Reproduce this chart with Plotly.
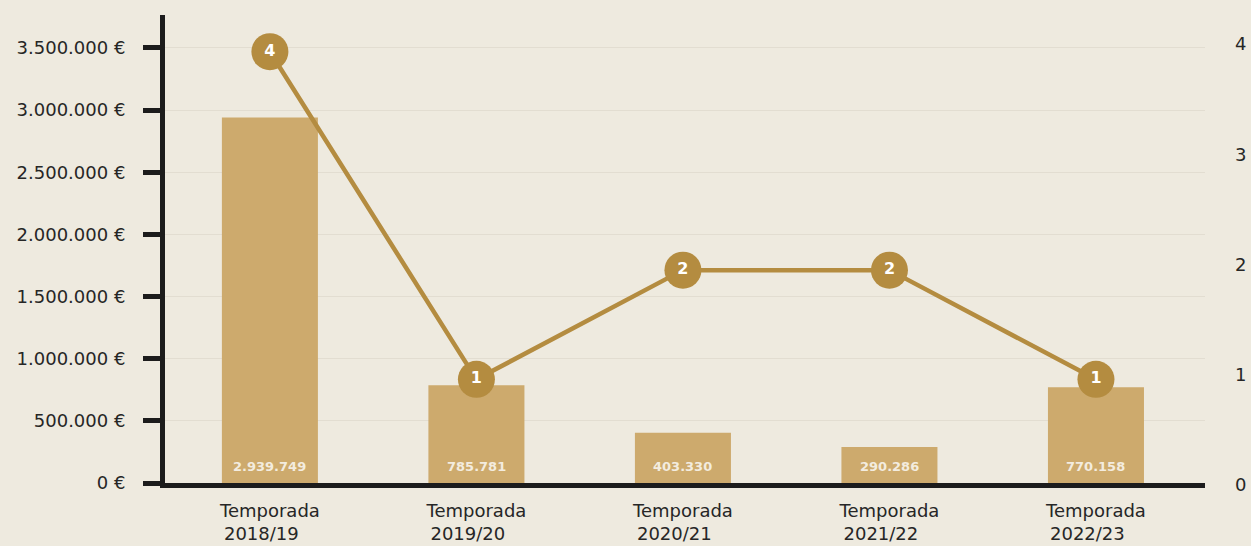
import plotly.graph_objects as go

# ── 데이터 ─────────────────────────────────────────────
temporadas = ["2018/19", "2019/20", "2020/21", "2021/22", "2022/23"]
importes = [2939749, 785781, 403330, 290286, 770158]   # € por temporada
cantidad = [4, 1, 2, 2, 1]                              # eje derecho

ticks_izq = [0, 500000, 1000000, 1500000, 2000000, 2500000, 3000000, 3500000]
ticks_der = [0, 1, 2, 3, 4]

NBSP = "\u00a0"
etiquetas_x = [f"Temporada<br>{NBSP}{t}{NBSP * 4}" for t in temporadas]
textos_izq = [f"{v:,} €".replace(",", ".") for v in ticks_izq]
textos_barra = [f"{v:,}".replace(",", ".") for v in importes]

FONDO = "#EEEADF"
BARRA = "#CDAA6D"
LINEA = "#B48C40"
TINTA = "#1C1C1C"
FUENTE = "DejaVu Sans"

pos = list(range(len(temporadas)))

fig = go.Figure()

fig.add_trace(go.Bar(
    x=pos, y=importes,
    width=0.465,
    marker=dict(color=BARRA, line_width=0),
    hoverinfo="skip",
))

fig.add_trace(go.Scatter(
    x=pos, y=cantidad,
    yaxis="y3",
    mode="lines+markers+text",
    line=dict(color=LINEA, width=4.5),
    marker=dict(size=37, color=LINEA),
    text=[f"<b>{c}</b>" for c in cantidad],
    textposition="middle center",
    textfont=dict(color="#FFFFFF", size=16, family=FUENTE),
    hoverinfo="skip",
))

# eje derecho solo para las etiquetas
fig.add_trace(go.Scatter(x=[0], y=[0], yaxis="y2", mode="markers",
                         marker=dict(opacity=0), hoverinfo="skip"))

# importes dentro de la barra, junto a la base
for i, t in zip(pos, textos_barra):
    fig.add_annotation(
        x=i, y=0, text=f"<b>{t}</b>", showarrow=False,
        yanchor="middle", yshift=17,
        font=dict(color="#F3ECDF", size=13, family=FUENTE),
    )

fig.update_layout(
    width=1251, height=546,
    margin=dict(l=165, r=46, t=15, b=63),
    paper_bgcolor=FONDO, plot_bgcolor=FONDO,
    showlegend=False,
    font=dict(family=FUENTE, color="#262626", size=16),
    xaxis=dict(
        range=[-0.508, 4.528], automargin=False,
        tickvals=pos, ticktext=etiquetas_x,
        showline=True, linecolor=TINTA, linewidth=5,
        showgrid=False, zeroline=False, ticks="",
        ticklabelstandoff=7,
        tickfont=dict(size=18, color="#262626"),
    ),
    yaxis=dict(
        range=[0, 3765000], automargin=False,
        tickvals=ticks_izq, ticktext=textos_izq,
        showline=True, linecolor=TINTA, linewidth=5,
        ticks="outside", ticklen=17, tickwidth=5, tickcolor=TINTA,
        ticklabelstandoff=14,
        showgrid=True, gridcolor="#E2DDD1", gridwidth=1,
        zeroline=False,
        tickfont=dict(size=18, color="#262626"),
    ),
    yaxis2=dict(
        overlaying="y", side="right", automargin=False,
        range=[0, 4.245],
        tickvals=ticks_der, ticklabelshift=2, ticklabelstandoff=29,
        showgrid=False, zeroline=False, showline=False, ticks="",
        tickfont=dict(size=18, color="#262626"),
    ),
    yaxis3=dict(
        overlaying="y", range=[0.051, 4.336],
        visible=False,
    ),
)

fig.write_html("out.html", config={"displayModeBar": False},
               post_script="document.body.style.margin='0';")
